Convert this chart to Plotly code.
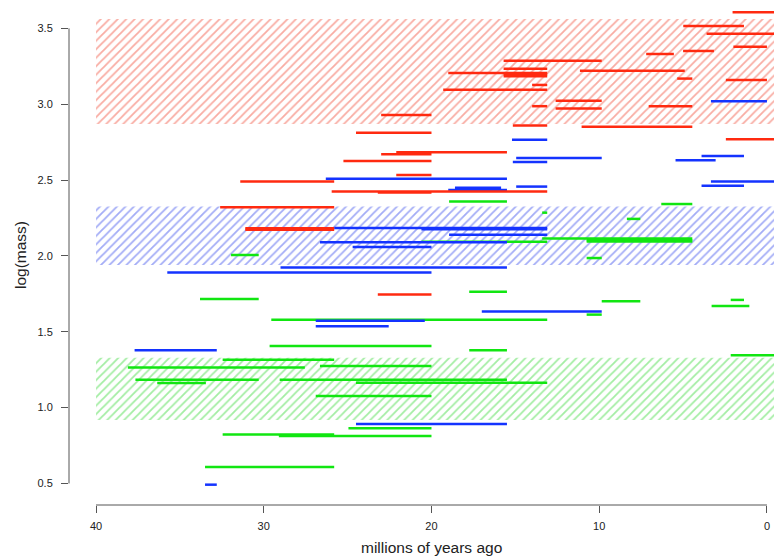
import plotly.graph_objects as go

# ---- data: (start Ma, end Ma, log mass) ----
red_start = [2.05, 4.99, 3.6, 2.0, 5.0, 7.2, 15.7, 15.7, 11.15, 19.0, 15.7, 15.7, 5.35, 2.45, 14.0,
             19.3, 12.6, 14.0, 12.6, 7.05, 23.0, 15.15, 11.05, 24.5, 2.45, 22.1, 23.0, 25.25, 22.1,
             31.4, 25.95, 23.2, 32.6, 31.1, 31.1, 23.2]
red_end = [-0.5, 1.37, -0.5, 0.0, 3.16, 5.55, 9.85, 13.1, 4.9, 13.1, 13.1, 13.1, 4.45, 0.0, 13.1,
           13.1, 9.85, 13.1, 9.85, 4.45, 20.0, 13.1, 4.45, 20.0, -0.5, 15.5, 20.0, 20.0, 20.0,
           25.8, 13.1, 20.0, 25.8, 25.8, 25.8, 20.0]
red_mass = [3.606, 3.516, 3.465, 3.379, 3.351, 3.331, 3.287, 3.234, 3.221, 3.206, 3.197, 3.184, 3.169,
            3.160, 3.127, 3.096, 3.023, 2.987, 2.971, 2.987, 2.929, 2.859, 2.852, 2.812, 2.769, 2.683,
            2.670, 2.626, 2.534, 2.490, 2.424, 2.418, 2.321, 2.183, 2.172, 1.745]

blue_start = [3.34, 15.2, 3.9, 14.95, 5.45, 15.15, 26.3, 3.34, 3.9, 14.95, 18.6, 19.0, 25.8, 20.6,
              18.95, 26.65, 24.7, 29.0, 35.75, 17.0, 26.9, 26.9, 37.7, 24.5, 33.5]
blue_end = [0.0, 13.1, 1.37, 9.85, 3.06, 13.1, 15.5, -0.5, 1.37, 13.1, 15.85, 15.5, 13.1, 13.1,
            13.1, 15.5, 20.0, 15.5, 20.0, 9.85, 20.4, 22.55, 32.8, 15.5, 32.8]
blue_mass = [3.019, 2.766, 2.659, 2.646, 2.630, 2.619, 2.509, 2.490, 2.463, 2.457, 2.450, 2.435,
             2.184, 2.176, 2.140, 2.090, 2.059, 1.923, 1.890, 1.633, 1.573, 1.536, 1.378, 0.892, 0.492]

green_start = [18.95, 6.3, 13.4, 8.35, 13.4, 10.75, 10.75, 20.6, 31.95, 10.75, 17.75, 33.8, 2.16,
               9.85, 3.3, 10.75, 29.55, 29.65, 17.75, 2.16, 32.45, 26.65, 38.1, 37.65, 29.05, 24.5,
               36.35, 26.9, 24.95, 32.45, 29.1, 33.5]
green_end = [15.5, 4.45, 13.1, 7.55, 4.45, 4.45, 4.45, 13.1, 30.3, 9.85, 15.5, 30.3, 1.37,
             7.55, 1.05, 9.85, 13.1, 20.0, 15.5, -0.5, 25.8, 20.0, 27.55, 30.3, 15.5, 13.1,
             33.45, 20.0, 20.0, 25.8, 20.0, 25.8]
green_mass = [2.358, 2.342, 2.285, 2.244, 2.114, 2.103, 2.095, 2.093, 2.006, 1.986, 1.764, 1.716,
              1.710, 1.701, 1.670, 1.613, 1.580, 1.406, 1.378, 1.345, 1.316, 1.275, 1.264, 1.184,
              1.184, 1.164, 1.162, 1.077, 0.864, 0.822, 0.813, 0.609]

# hatched bands: (low, high) in log mass, spanning from 40 Ma to present
band_names = ["red", "blue", "green"]
band_low = [2.870, 1.940, 0.919]
band_high = [3.562, 2.325, 1.329]
band_from = 40
band_to = -2

x_ticks = [40, 30, 20, 10, 0]
y_ticks = [0.5, 1.0, 1.5, 2.0, 2.5, 3.0, 3.5]

line_colors = {"red": "#ff2a10", "blue": "#1433ff", "green": "#11e611"}
hatch_colors = {"red": "rgba(240,70,50,0.9)", "blue": "rgba(50,70,235,0.9)", "green": "rgba(50,215,50,0.9)"}

fig = go.Figure()

for name, lo, hi in zip(band_names, band_low, band_high):
    fig.add_trace(go.Scatter(
        x=[band_from, band_to, band_to, band_from, band_from],
        y=[lo, lo, hi, hi, lo],
        mode="lines", fill="toself",
        fillcolor="rgba(0,0,0,0)",
        fillpattern=dict(shape="/", fgcolor=hatch_colors[name], bgcolor="rgba(0,0,0,0)",
                         size=6, solidity=0.3),
        line=dict(width=0, color="rgba(0,0,0,0)"),
        hoverinfo="skip", showlegend=False))


def segs(starts, ends, masses):
    xs, ys = [], []
    for s, e, m in zip(starts, ends, masses):
        xs += [s, e, None]
        ys += [m, m, None]
    return xs, ys


for name, (s, e, m) in [("green", (green_start, green_end, green_mass)),
                        ("blue", (blue_start, blue_end, blue_mass)),
                        ("red", (red_start, red_end, red_mass))]:
    xs, ys = segs(s, e, m)
    fig.add_trace(go.Scatter(x=xs, y=ys, mode="lines",
                             line=dict(color=line_colors[name], width=2.5),
                             showlegend=False, connectgaps=False))

font_family = "Liberation Sans, Arial, Helvetica, sans-serif"
axis_col = "#555555"

fig.update_layout(
    width=774, height=556,
    margin=dict(l=69, r=0, t=0, b=51, pad=0, autoexpand=False),
    paper_bgcolor="white", plot_bgcolor="white",
    font=dict(family=font_family, color="#222222"),
    xaxis=dict(range=[41.61, -0.42], tickvals=x_ticks, ticktext=[str(v) for v in x_ticks],
               ticks="outside", ticklen=7, tickwidth=1, tickcolor=axis_col,
               showgrid=False, zeroline=False, showline=False, automargin=False,
               tickfont=dict(size=11, family=font_family, color="#222222"),
               ticklabelstandoff=4),
    yaxis=dict(range=[0.358, 3.687], tickvals=y_ticks, ticktext=[f"{v:.1f}" for v in y_ticks],
               ticks="outside", ticklen=7, tickwidth=1, tickcolor=axis_col,
               showgrid=False, zeroline=False, showline=False, automargin=False,
               tickfont=dict(size=11, family=font_family, color="#222222"),
               ticklabelstandoff=6),
    shapes=[
        dict(type="line", xref="x", yref="paper", x0=40, x1=0, y0=0, y1=0,
             line=dict(color=axis_col, width=1)),
        dict(type="line", xref="paper", yref="y", x0=0, x1=0, y0=0.5, y1=3.5,
             line=dict(color=axis_col, width=1)),
    ],
    annotations=[
        dict(text="millions of years ago", xref="x", yref="paper", x=20, y=-0.0832,
             xanchor="center", yanchor="middle", showarrow=False,
             font=dict(size=15.5, family=font_family, color="#222222")),
        dict(text="log(mass)", xref="paper", yref="paper", x=-0.0695, y=0.495,
             xanchor="center", yanchor="middle", textangle=-90, showarrow=False,
             font=dict(size=15.5, family=font_family, color="#222222")),
    ],
)

fig.write_html("out.html", config={"displayModeBar": False},
               post_script="document.body.style.margin='0';document.body.style.overflow='hidden';")
